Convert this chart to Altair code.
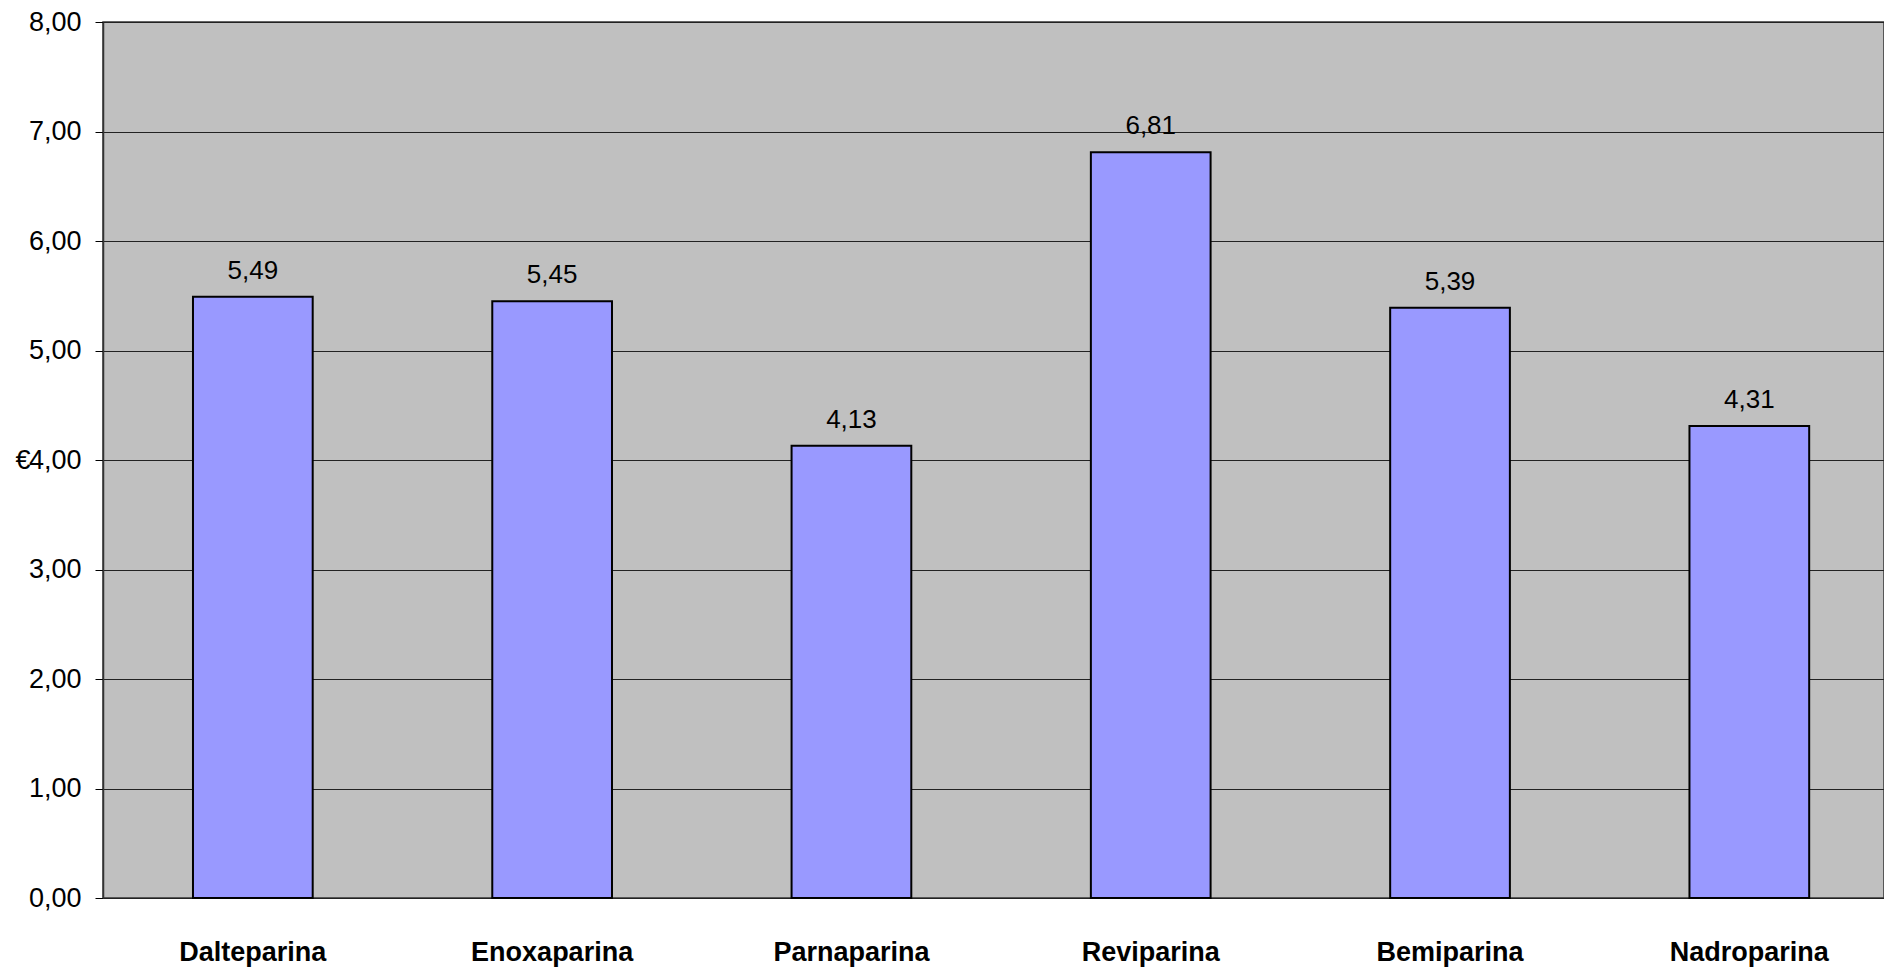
import altair as alt
import pandas as pd

categories = ["Dalteparina", "Enoxaparina", "Parnaparina", "Reviparina", "Bemiparina", "Nadroparina"]
values = [5.49, 5.45, 4.13, 6.81, 5.39, 4.31]
labels = ["5,49", "5,45", "4,13", "6,81", "5,39", "4,31"]

df = pd.DataFrame({"farmaco": categories, "costo": values, "label": labels})

FONT = "Liberation Sans"

x = alt.X(
    "farmaco:N",
    sort=categories,
    title=None,
    scale=alt.Scale(paddingInner=0.6, paddingOuter=0.2753, align=0.546),
    axis=alt.Axis(
        labelAngle=0,
        labelFont=FONT,
        labelFontSize=27,
        labelFontWeight="bold",
        labelColor="black",
        labelPadding=41,
        ticks=False,
        domain=False,
    ),
)

y = alt.Y(
    "costo:Q",
    title="€",
    scale=alt.Scale(domain=[0, 8], nice=False),
    axis=alt.Axis(
        values=[0, 1, 2, 3, 4, 5, 6, 7, 8],
        labelExpr="replace(format(datum.value, '.2f'), '.', ',')",
        labelFont=FONT,
        labelFontSize=27,
        labelColor="black",
        labelPadding=14,
        tickSize=8,
        tickColor="black",
        domainColor="#333333",
        domainWidth=1.5,
        grid=True,
        gridColor="#222222",
        gridWidth=1,
        titleAngle=0,
        titleFont=FONT,
        titleFontSize=27,
        titleFontWeight="normal",
        titleColor="black",
        titleAlign="left",
        titleBaseline="middle",
        titleX=-88,
        titleY=438,
    ),
)

bars = alt.Chart(df).mark_bar(
    color="#9999FF", stroke="black", strokeWidth=2
).encode(x=x, y=y)

text = alt.Chart(df).mark_text(
    font=FONT, fontSize=26, color="black", baseline="alphabetic", dy=-18
).encode(x=alt.X("farmaco:N", sort=categories), y="costo:Q", text="label:N")

chart = (
    alt.layer(bars, text)
    .properties(
        width=1781,
        height=876,
        autosize=alt.AutoSizeParams(type="none"),
        padding={"left": 103, "top": 22, "right": 0, "bottom": 73},
        background="white",
    )
    .configure_view(fill="#C0C0C0", stroke="#333333", strokeWidth=1.5)
)

chart.save("out.html", embed_options={"renderer": "svg", "actions": False})
